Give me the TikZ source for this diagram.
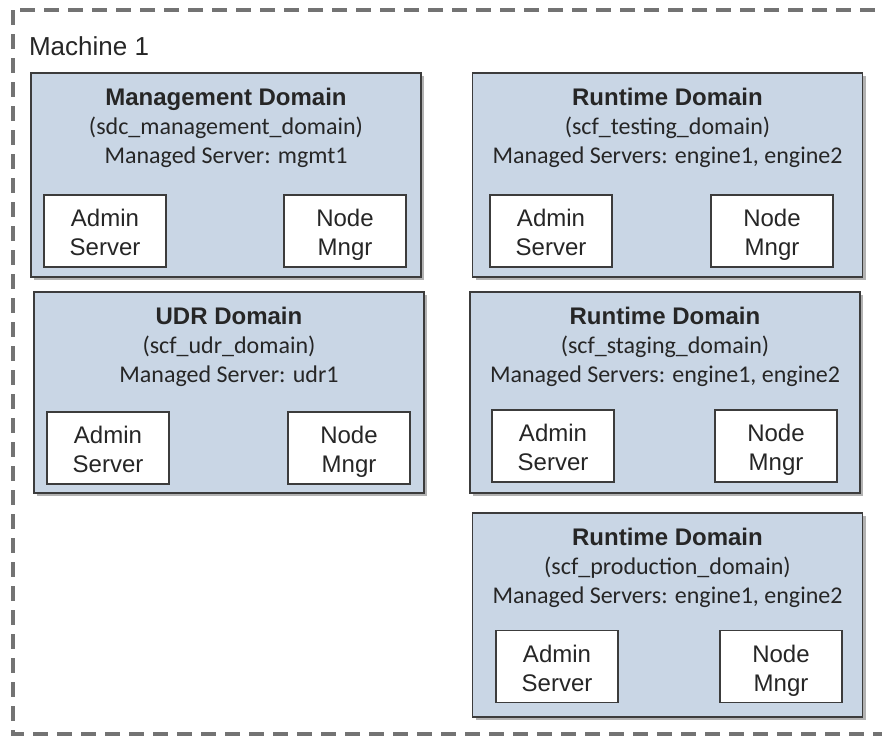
\documentclass[tikz,border=0pt]{standalone}
\usepackage{fontspec}
\setmainfont{Liberation Sans}
\newfontfamily\calib{Carlito}
\usetikzlibrary{positioning,shadows}

\definecolor{domfond}{RGB}{201,214,229}
\definecolor{trait}{RGB}{60,60,60}
\definecolor{pointille}{RGB}{115,115,115}

\newcommand{\deuxlignes}[2]{\rule{0pt}{12.6pt}#1\\#2\rule[-2.5pt]{0pt}{2.5pt}}

\tikzstyle{domaine} = [rectangle, draw=trait, line width=0.7pt, fill=domfond, minimum width=195pt, minimum height=102pt, drop shadow={shadow xshift=1.6pt, shadow yshift=-1.6pt, fill=black, opacity=0.3}]
\tikzstyle{serveur} = [rectangle, draw=trait, line width=0.6pt, fill=white, minimum width=61pt, minimum height=36pt, inner sep=1pt, align=center, text=black!85, font=\fontsize{12}{14.5}\selectfont]
\tikzstyle{titre} = [align=center, text=black!85, font=\fontsize{12}{14.5}\selectfont]
\tikzstyle{bordure} = [draw=pointille, line width=1.9pt, dash pattern=on 7.5pt off 4.5pt]

\begin{document}
\begin{tikzpicture}[x=0.5pt, y=-0.5pt]
    \useasboundingbox (0,0) rectangle (882,736);

    % machine
    \draw[bordure] (13,10) rectangle (920,734);
    \node[anchor=west, text=black!85, font=\fontsize{13}{15}\selectfont] (machine) at (22,46) {Machine 1};

    %  domaines
    \node[domaine] (M) at (226,175) {};
    \node[titre, below=4.5pt] (Mt) at (M.north) {\textbf{Management Domain}\\{\calib (sdc\_management\_domain)}\\{\calib Managed Server: mgmt1}};
    \node[serveur] (Ma) at (105,231) {\deuxlignes{Admin}{Server}};
    \node[serveur] (Mn) at (345,231) {\deuxlignes{Node}{Mngr}};

    %-------------------------------------------------------------
    \node[domaine] (T) at (667.5,175) {};
    \node[titre, below=4.5pt] (Tt) at (T.north) {\textbf{Runtime Domain}\\{\calib (scf\_testing\_domain)}\\{\calib Managed Servers: engine1, engine2}};
    \node[serveur] (Ta) at (551,231) {\deuxlignes{Admin}{Server}};
    \node[serveur] (Tn) at (772,231) {\deuxlignes{Node}{Mngr}};

    %-------------------------------------------------------------
    \node[domaine, minimum height=100.5pt] (U) at (229,392.5) {};
    \node[titre, below=4.5pt] (Ut) at (U.north) {\textbf{UDR Domain}\\{\calib (scf\_udr\_domain)}\\{\calib Managed Server: udr1}};
    \node[serveur] (Ua) at (108,448) {\deuxlignes{Admin}{Server}};
    \node[serveur] (Un) at (349,448) {\deuxlignes{Node}{Mngr}};

    %-------------------------------------------------------------
    \node[domaine, minimum height=100.5pt] (S) at (665,392.5) {};
    \node[titre, below=4.5pt] (St) at (S.north) {\textbf{Runtime Domain}\\{\calib (scf\_staging\_domain)}\\{\calib Managed Servers: engine1, engine2}};
    \node[serveur] (Sa) at (553,446) {\deuxlignes{Admin}{Server}};
    \node[serveur] (Sn) at (776,446) {\deuxlignes{Node}{Mngr}};

    %-------------------------------------------------------------
    \node[domaine] (P) at (667.5,615) {};
    \node[titre, below=4.5pt] (Pt) at (P.north) {\textbf{Runtime Domain}\\{\calib (scf\_production\_domain)}\\{\calib Managed Servers: engine1, engine2}};
    \node[serveur] (Pa) at (557,666.5) {\deuxlignes{Admin}{Server}};
    \node[serveur] (Pn) at (781,666.5) {\deuxlignes{Node}{Mngr}};

\end{tikzpicture}
\end{document}
